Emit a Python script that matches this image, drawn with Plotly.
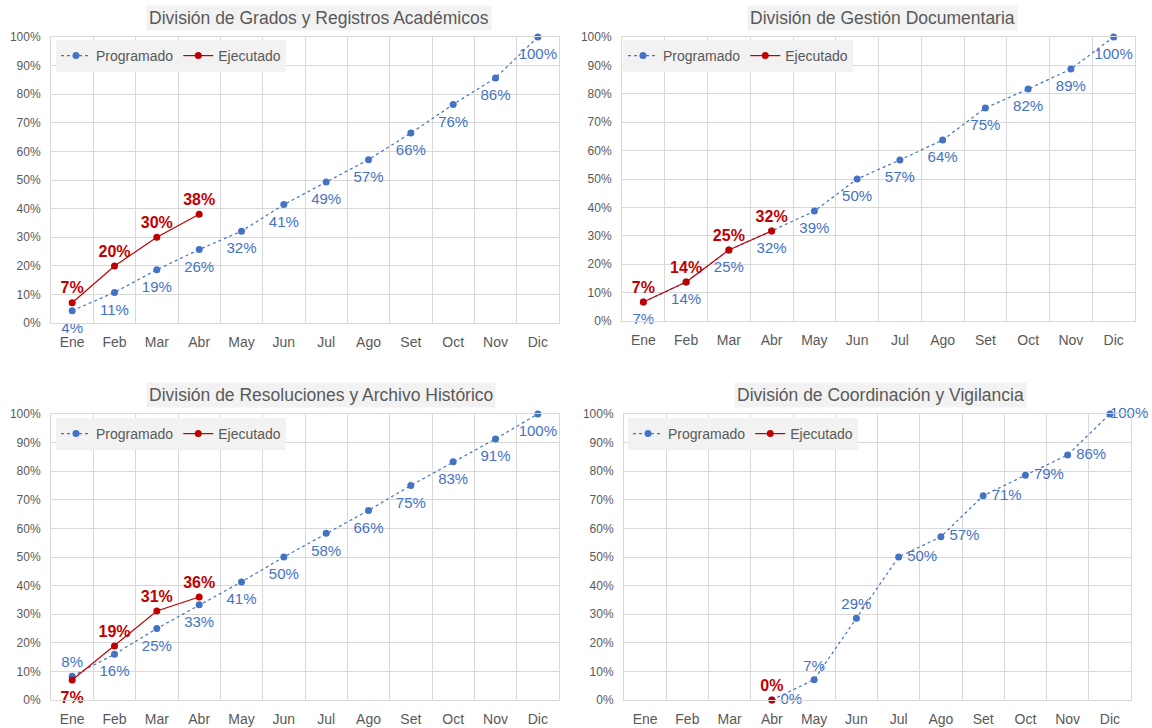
import plotly.graph_objects as go

months = ["Ene", "Feb", "Mar", "Abr", "May", "Jun", "Jul", "Ago", "Set", "Oct", "Nov", "Dic"]
titles = [
    "División de Grados y Registros Académicos",
    "División de Gestión Documentaria",
    "División de Resoluciones y Archivo Histórico",
    "División de Coordinación y Vigilancia",
]
prog1 = [0.043, 0.107, 0.186, 0.257, 0.321, 0.414, 0.493, 0.571, 0.664, 0.764, 0.857, 1.0]
ejec1 = [0.071, 0.199, 0.300, 0.380]
prog2 = [0.067, 0.137, 0.250, 0.317, 0.387, 0.500, 0.567, 0.637, 0.750, 0.817, 0.887, 1.0]
ejec2 = [0.067, 0.137, 0.250, 0.317]
prog3 = [0.083, 0.160, 0.250, 0.333, 0.413, 0.500, 0.583, 0.663, 0.750, 0.833, 0.913, 1.0]
ejec3 = [0.070, 0.189, 0.311, 0.360]
prog4 = [None, None, None, 0.0, 0.071, 0.286, 0.500, 0.571, 0.714, 0.786, 0.857, 1.0]
ejec4 = [None, None, None, 0.0]

BLUE = "#4472C4"
RED = "#C00000"
GRID = "#d9d9d9"
TXT = "#595959"
FONT = "Liberation Sans, Arial, sans-serif"

W, H = 1152, 728
# pixel boxes (left, right, top, bottom)
boxes = [(51, 559, 37, 323), (622, 1135, 37, 321), (51, 559, 414, 700), (624, 1131, 414, 700)]
legend_pos = [(56, 40), (623, 40), (56, 418), (628, 418)]
title_pos = [(319, 18), (882, 18), (321, 395), (880, 395)]

progs = [prog1, prog2, prog3, prog4]
ejecs = [ejec1, ejec2, ejec3, ejec4]

pos_prog = [
    ["bottom center"] * 12,
    ["bottom center"] * 12,
    ["top center"] + ["bottom center"] * 11,
    ["middle right"] * 4 + ["top center", "top center"] + ["middle right"] * 5 + ["tight right"],
]
pos_ejec = [
    ["top center"] * 4,
    ["top center"] * 4,
    ["bottom center"] + ["top center"] * 3,
    ["top center"] * 4,
]
# invisible "spacer" marker sizes that push labels away from the points
SPACER = {"top center": 7, "bottom center": 16, "middle right": 12, "tight right": 0}


def tpos(p):
    return "middle right" if p == "tight right" else p


fig = go.Figure()
layout = dict(
    width=W, height=H, margin=dict(l=0, r=0, t=0, b=0, autoexpand=False),
    paper_bgcolor="white", plot_bgcolor="white",
    font=dict(family=FONT, color=TXT), annotations=[],
)

for i in range(4):
    sfx = "" if i == 0 else str(i + 1)
    leg = "legend" if i == 0 else f"legend{i + 1}"
    ax = dict(xaxis="x" + sfx, yaxis="y" + sfx, legend=leg)
    l, r, t, b = boxes[i]
    xe = months[:len(ejecs[i])]
    fig.add_trace(go.Scatter(
        x=months, y=progs[i], name="Programado", mode="lines+markers",
        line=dict(color=BLUE, width=1.2, dash="3px,3px"),
        marker=dict(color=BLUE, size=7), cliponaxis=False, **ax,
    ))
    fig.add_trace(go.Scatter(
        x=xe, y=ejecs[i], name="Ejecutado", mode="lines+markers",
        line=dict(color=RED, width=1.2),
        marker=dict(color=RED, size=7), cliponaxis=False, **ax,
    ))
    # data labels
    fig.add_trace(go.Scatter(
        x=months, y=progs[i], mode="markers+text", showlegend=False, hoverinfo="skip",
        marker=dict(size=[SPACER[p] for p in pos_prog[i]], opacity=0, color=BLUE),
        texttemplate="%{y:.0%}", textposition=[tpos(p) for p in pos_prog[i]],
        textfont=dict(color=BLUE, size=15, family=FONT), cliponaxis=False, **ax,
    ))
    fig.add_trace(go.Scatter(
        x=xe, y=ejecs[i], mode="markers+text", showlegend=False, hoverinfo="skip",
        marker=dict(size=[SPACER[p] for p in pos_ejec[i]], opacity=0, color=RED),
        texttemplate="<b>%{y:.0%}</b>", textposition=[tpos(p) for p in pos_ejec[i]],
        textfont=dict(color=RED, size=16, family=FONT), cliponaxis=False, **ax,
    ))
    layout["xaxis" + sfx] = dict(
        domain=[l / W, r / W], anchor="y" + sfx, type="category",
        categoryorder="array", categoryarray=months,
        range=[-0.5, 11.5], tickson="boundaries", ticks="", ticklabelstandoff=6,
        showgrid=True, gridcolor=GRID, gridwidth=1,
        showline=True, linecolor=GRID, mirror=True, automargin=False,
        tickfont=dict(size=14, color=TXT, family=FONT), fixedrange=True,
    )
    layout["yaxis" + sfx] = dict(
        domain=[1 - b / H, 1 - t / H], anchor="x" + sfx,
        range=[0, 1], dtick=0.1, tickformat=".0%", ticklabelstandoff=7,
        showgrid=True, gridcolor=GRID, gridwidth=1, zeroline=False,
        showline=True, linecolor=GRID, mirror=True, ticks="", automargin=False,
        tickfont=dict(size=12, color=TXT, family=FONT), fixedrange=True,
    )
    lx, ly = legend_pos[i]
    layout[leg] = dict(
        x=lx / W, y=1 - ly / H, xanchor="left", yanchor="top",
        orientation="h", bgcolor="#f2f2f2", font=dict(size=14, color=TXT, family=FONT),
        itemwidth=30, tracegroupgap=0,
    )
    tx, ty = title_pos[i]
    layout["annotations"].append(dict(
        text=titles[i], x=tx / W, y=1 - ty / H, xref="paper", yref="paper",
        xanchor="center", yanchor="middle", showarrow=False,
        font=dict(size=17.5, color=TXT, family=FONT), bgcolor="#f2f2f2", borderpad=2,
    ))

fig.update_layout(**layout)
fig.write_html(
    "out.html",
    config={"displayModeBar": False},
    post_script="document.body.style.margin='0';document.body.style.overflow='hidden';",
)
